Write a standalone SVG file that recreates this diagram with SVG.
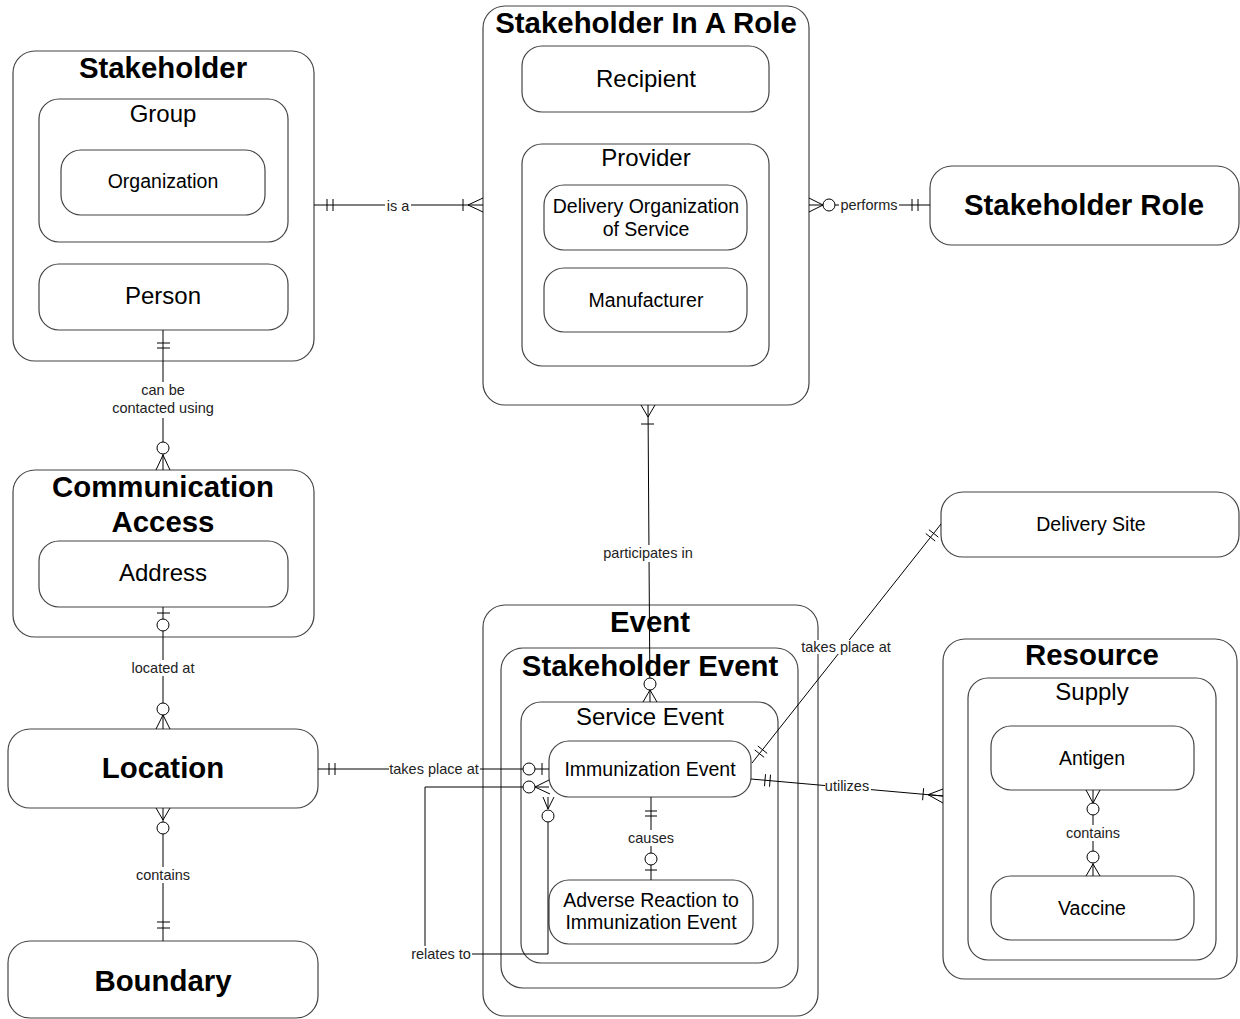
<svg xmlns="http://www.w3.org/2000/svg" width="1240" height="1019" viewBox="0 0 1240 1019">
<style>
.box{fill:#fff;stroke:#444;stroke-width:1.2}
.t{font-family:"Liberation Sans",Arial,sans-serif;fill:#000;text-anchor:middle}
.b{font-weight:bold;font-size:29.4px}
.m{font-size:24px}
.s{font-size:19.5px}
.l{font-family:"Liberation Sans",Arial,sans-serif;font-size:14.5px;fill:#222;text-anchor:middle}
.c{fill:none;stroke:#000;stroke-width:1}
.o{fill:#fff;stroke:#000;stroke-width:1}
.bg{fill:#fff}
</style>
<rect width="1240" height="1019" fill="#fff"/>
<g id="stakeholder">
<rect class="box" x="13" y="51" width="301" height="310" rx="22"/>
<text class="t b" x="163" y="78">Stakeholder</text>
</g>
<g id="group">
<rect class="box" x="39" y="99" width="249" height="143" rx="20"/>
<text class="t m" x="163" y="122">Group</text>
</g>
<g id="organization">
<rect class="box" x="61" y="150" width="204" height="65" rx="20"/>
<text class="t s" x="163" y="188">Organization</text>
</g>
<g id="person">
<rect class="box" x="39" y="264" width="249" height="66" rx="20"/>
<text class="t m" x="163" y="304">Person</text>
</g>
<g id="communication-access">
<rect class="box" x="13" y="470" width="301" height="167" rx="22"/>
<text class="t b" x="163" y="497">Communication</text>
<text class="t b" x="163" y="532">Access</text>
</g>
<g id="address">
<rect class="box" x="39" y="541" width="249" height="66" rx="20"/>
<text class="t m" x="163" y="581">Address</text>
</g>
<g id="location">
<rect class="box" x="8" y="729" width="310" height="79" rx="22"/>
<text class="t b" x="163" y="778">Location</text>
</g>
<g id="boundary">
<rect class="box" x="8" y="941" width="310" height="77" rx="22"/>
<text class="t b" x="163" y="991">Boundary</text>
</g>
<g id="stakeholder-in-a-role">
<rect class="box" x="483" y="6" width="326" height="399" rx="22"/>
<text class="t b" x="646" y="33">Stakeholder In A Role</text>
</g>
<g id="recipient">
<rect class="box" x="522" y="46" width="247" height="66" rx="20"/>
<text class="t m" x="646" y="87">Recipient</text>
</g>
<g id="provider">
<rect class="box" x="522" y="144" width="247" height="222" rx="20"/>
<text class="t m" x="646" y="166">Provider</text>
</g>
<g id="delivery-organization">
<rect class="box" x="544" y="185" width="203" height="65" rx="20"/>
<text class="t s" x="646" y="213">Delivery Organization</text>
<text class="t s" x="646" y="236">of Service</text>
</g>
<g id="manufacturer">
<rect class="box" x="544" y="268" width="203" height="64" rx="20"/>
<text class="t s" x="646" y="307">Manufacturer</text>
</g>
<g id="stakeholder-role">
<rect class="box" x="930" y="166" width="309" height="79" rx="22"/>
<text class="t b" x="1084" y="215">Stakeholder Role</text>
</g>
<g id="delivery-site">
<rect class="box" x="941" y="492" width="298" height="65" rx="22"/>
<text class="t s" x="1091" y="531">Delivery Site</text>
</g>
<g id="event">
<rect class="box" x="483" y="605" width="335" height="411" rx="22"/>
<text class="t b" x="650" y="632">Event</text>
</g>
<g id="stakeholder-event">
<rect class="box" x="501" y="648" width="297" height="340" rx="22"/>
<text class="t b" x="650" y="676">Stakeholder Event</text>
</g>
<g id="service-event">
<rect class="box" x="521" y="702" width="257" height="261" rx="20"/>
<text class="t m" x="650" y="725">Service Event</text>
</g>
<g id="immunization-event">
<rect class="box" x="549" y="741" width="202" height="56" rx="20"/>
<text class="t s" x="650" y="776">Immunization Event</text>
</g>
<g id="adverse-reaction">
<rect class="box" x="549" y="880" width="204" height="64" rx="20"/>
<text class="t s" x="651" y="907">Adverse Reaction to</text>
<text class="t s" x="651" y="929">Immunization Event</text>
</g>
<g id="resource">
<rect class="box" x="943" y="639" width="294" height="340" rx="22"/>
<text class="t b" x="1092" y="665">Resource</text>
</g>
<g id="supply">
<rect class="box" x="968" y="678" width="248" height="282" rx="20"/>
<text class="t m" x="1092" y="700">Supply</text>
</g>
<g id="antigen">
<rect class="box" x="991" y="726" width="203" height="64" rx="20"/>
<text class="t s" x="1092" y="765">Antigen</text>
</g>
<g id="vaccine">
<rect class="box" x="991" y="876" width="203" height="64" rx="20"/>
<text class="t s" x="1092" y="915">Vaccine</text>
</g>
<g id="connectors">
<!-- can be contacted using -->
<path class="c" d="M163 330V470M157 343H170M157 348H170M163 455L156 470M163 455L170 470"/>
<circle class="o" cx="163" cy="448" r="6"/>
<rect class="bg" x="110" y="382" width="106" height="36"/>
<text class="l" x="163" y="395">can be</text>
<text class="l" x="163" y="413">contacted using</text>
<!-- located at -->
<path class="c" d="M163 607V729M157 613H170M163 715L156 729M163 715L170 729"/>
<circle class="o" cx="163" cy="625" r="6"/>
<circle class="o" cx="163" cy="709" r="6"/>
<rect class="bg" x="128" y="660" width="70" height="16"/>
<text class="l" x="163" y="673">located at</text>
<!-- contains (location-boundary) -->
<path class="c" d="M163 808V941M156 808L163 820L170 808M157 922H170M157 928H170"/>
<circle class="o" cx="163" cy="828" r="6"/>
<rect class="bg" x="134" y="867" width="58" height="16"/>
<text class="l" x="163" y="880">contains</text>
<!-- is a -->
<path class="c" d="M314 205H483M327 199V211M333 199V211M463 199V211M468 205L483 198M468 205L483 212"/>
<rect class="bg" x="385" y="198" width="26" height="16"/>
<text class="l" x="398" y="211">is a</text>
<!-- performs -->
<path class="c" d="M809 205H930M809 198L823 205L809 212M912 199V211M918 199V211"/>
<circle class="o" cx="829" cy="205" r="6"/>
<rect class="bg" x="839" y="198" width="60" height="16"/>
<text class="l" x="869" y="210">performs</text>
<!-- participates in -->
<path class="c" d="M648 405L650 702M641 405L648 417L655 405M641 424H654M650 690L643 702M650 690L657 702"/>
<circle class="o" cx="650" cy="684" r="6"/>
<rect class="bg" x="602" y="545" width="93" height="17"/>
<text class="l" x="648" y="558">participates in</text>
<!-- takes place at (location) -->
<path class="c" d="M318 769H549M329 763V775M335 763V775M542 763V775"/>
<circle class="o" cx="529" cy="769" r="6"/>
<rect class="bg" x="389" y="761" width="91" height="16"/>
<text class="l" x="434" y="774">takes place at</text>
<!-- relates to -->
<path class="c" d="M523 787H425V954H548V822M535 787L549 780M535 787L549 787M535 787L550 794M548 809L543 797M548 809L548 797M548 809L554 797"/>
<circle class="o" cx="529" cy="787" r="6"/>
<circle class="o" cx="548" cy="816" r="6"/>
<rect class="bg" x="410" y="946" width="62" height="16"/>
<text class="l" x="441" y="959">relates to</text>
<!-- causes -->
<path class="c" d="M651 797V880M645 811H657M645 816H657M645 870H657"/>
<circle class="o" cx="651" cy="859" r="6"/>
<rect class="bg" x="627" y="830" width="48" height="16"/>
<text class="l" x="651" y="843">causes</text>
<!-- takes place at (delivery site) -->
<path class="c" d="M752 763L941 524M754.7 749.9L764.1 757.3M757.8 746L767.2 753.4M928.9 529.7L938.3 537.1M925.8 533.6L935.2 541"/>
<rect class="bg" x="801" y="640" width="91" height="14"/>
<text class="l" x="846" y="652">takes place at</text>
<!-- utilizes -->
<path class="c" d="M751 779L943 796M765.5 774.2L764.5 786.2M770.5 774.7L769.5 786.7M923.6 788.2L922.6 800.2M928 794.7L943 789M928 794.7L943 796M928 794.7L943 803"/>
<rect class="bg" x="825" y="779" width="46" height="16"/>
<text class="l" x="847" y="791">utilizes</text>
<!-- contains (antigen-vaccine) -->
<path class="c" d="M1093 790V876M1086 790L1093 803L1100 790M1093 864L1086 876M1093 864L1100 876"/>
<circle class="o" cx="1093" cy="809" r="6"/>
<circle class="o" cx="1093" cy="857" r="6"/>
<rect class="bg" x="1064" y="825" width="58" height="16"/>
<text class="l" x="1093" y="838">contains</text>
</g>
</svg>
